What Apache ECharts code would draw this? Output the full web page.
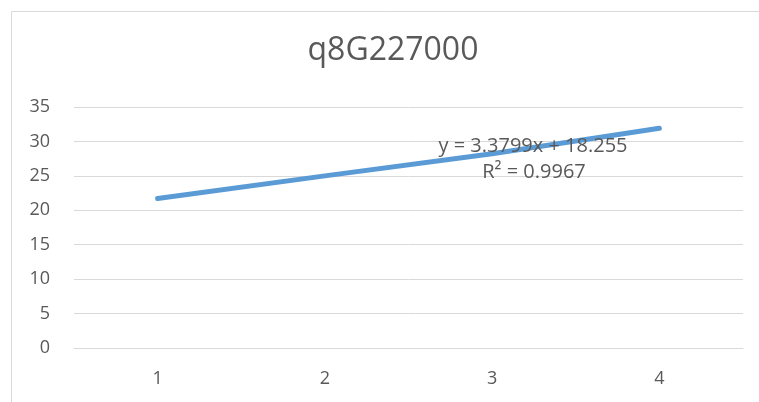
<!DOCTYPE html>
<html>
<head>
<meta charset="utf-8">
<script src="https://cdn.jsdelivr.net/npm/echarts@6/dist/echarts.min.js"></script>
<style>
html,body{margin:0;padding:0;background:#fff;}
#chart{width:759px;height:402px;}
</style>
</head>
<body>
<div id="chart"></div>
<script>
const titleText = 'q8G227000';
const categories = ['1', '2', '3', '4'];
const seriesValues = [21.7, 25.0, 28.2, 31.9];
const trendValues = [21.6, 25.0, 28.4, 31.8];
const yTicks = [0, 5, 10, 15, 20, 25, 30, 35];
const equationText = 'y = 3.3799x + 18.255';
const r2Text = 'R² = 0.9967';

const FONT = '"Open Sans", "Liberation Sans", sans-serif';
const TEXT = '#595959';
const GRID = '#d9d9d9';
const BLUE = '#5B9BD5';

const chart = echarts.init(document.getElementById('chart'));
chart.setOption({
  animation: false,
  backgroundColor: '#ffffff',
  title: {
    text: titleText,
    left: 393,
    top: 35,
    textAlign: 'center',
    padding: 0,
    textStyle: { fontFamily: FONT, fontSize: 32, fontWeight: 'normal', color: TEXT }
  },
  grid: { left: 74, right: 16, top: 107, bottom: 54 },
  xAxis: {
    type: 'category',
    data: categories,
    boundaryGap: true,
    axisLine: { show: true, lineStyle: { color: GRID, width: 1 } },
    axisTick: { show: false },
    axisLabel: { color: TEXT, fontFamily: FONT, fontSize: 18, margin: 22 },
    splitLine: { show: false }
  },
  yAxis: {
    type: 'value',
    min: yTicks[0],
    max: yTicks[yTicks.length - 1],
    interval: yTicks[1] - yTicks[0],
    axisLine: { show: false },
    axisTick: { show: false },
    axisLabel: { color: TEXT, fontFamily: FONT, fontSize: 18, margin: 24 },
    splitLine: { show: true, lineStyle: { color: GRID, width: 1 } }
  },
  series: [
    {
      name: 'q8G227000',
      type: 'line',
      data: seriesValues,
      symbol: 'none',
      z: 2,
      lineStyle: { color: BLUE, width: 5, cap: 'round', join: 'round' }
    },
    {
      name: 'trend',
      type: 'line',
      data: trendValues,
      symbol: 'none',
      z: 3,
      lineStyle: { color: BLUE, width: 1.5, type: 'dotted' }
    }
  ],
  graphic: [
    {
      type: 'rect',
      left: 9, top: 9,
      shape: { width: 800, height: 500 },
      style: { fill: 'none', stroke: GRID, lineWidth: 1 },
      silent: true, z: -10
    },
    {
      type: 'text',
      x: 533, y: 146,
      style: { text: equationText, fill: TEXT, font: '20px ' + FONT, textAlign: 'center', textVerticalAlign: 'middle' },
      z: 10
    },
    {
      type: 'text',
      x: 534, y: 172,
      style: { text: r2Text, fill: TEXT, font: '20px ' + FONT, textAlign: 'center', textVerticalAlign: 'middle' },
      z: 10
    }
  ]
});
</script>
</body>
</html>
